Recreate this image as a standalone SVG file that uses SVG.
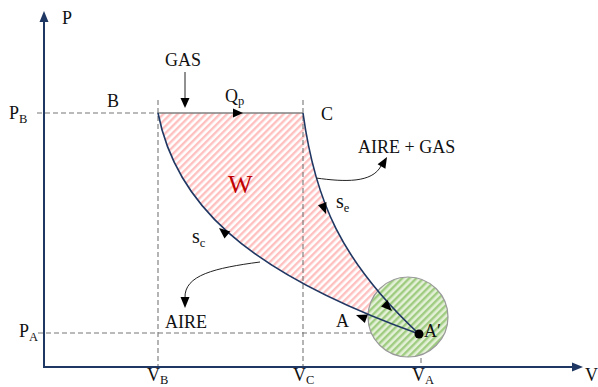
<svg xmlns="http://www.w3.org/2000/svg" width="598" height="387" viewBox="0 0 598 387">
<style>
text{font-family:"Liberation Serif","DejaVu Serif",serif;font-size:18px;fill:#111}
.sub{font-size:12.5px}
.s{font-size:20px}
.axis{stroke:#1f3763;stroke-width:2;fill:none}
.curve{stroke:#1f3763;stroke-width:1.6;fill:none}
.dash{stroke:#777;stroke-width:1.1;stroke-dasharray:5,3;fill:none}
.thin{stroke:#222;stroke-width:1;fill:none}
.ah{fill:#000}
</style>
<defs>
<pattern id="red" width="5" height="5" patternUnits="userSpaceOnUse" patternTransform="rotate(45)">
<rect width="5" height="5" fill="#fff"/><rect width="2.4" height="5" fill="#ffc0c0"/>
</pattern>
<pattern id="green" width="5" height="5" patternUnits="userSpaceOnUse" patternTransform="rotate(45)">
<rect width="5" height="5" fill="#e4f1d8"/><rect width="2.4" height="5" fill="#9fcc80"/>
</pattern>
</defs>
<g id="work-area">
<path d="M158,113 L303,113 C315,200 340,260 419,334 C240,270 175,200 158,113 Z" fill="url(#red)"/>
</g>
<g id="guides">
<path class="dash" d="M37,113 H158"/>
<path class="dash" d="M158,100 V367"/>
<path class="dash" d="M303,100 V367"/>
<path class="dash" d="M38,333 H419"/>
<path class="dash" d="M421,334 V367"/>
</g>
<g id="circle">
<circle cx="408" cy="317" r="40" fill="url(#green)" stroke="#9a9a9a" stroke-width="1.2"/>
</g>
<g id="axes">
<path class="axis" d="M44,368 V20"/>
<polygon points="44,11 39.5,22 48.5,22" fill="#1f3763"/>
<path class="axis" d="M43,367 H574"/>
<polygon points="583,367 572,362.5 572,371.5" fill="#1f3763"/>
</g>
<g id="connectors">
<path d="M158,113 H303" stroke="#808080" stroke-width="1.6" fill="none"/>
<polygon class="ah" points="243,113 233,108.5 233,117.5"/>
<path class="curve" d="M303,113 C315,200 340,260 419,334"/>
<path class="curve" d="M158,113 C175,200 240,270 419,334"/>
<polygon class="ah" points="0,0 -11,-4.5 -11,4.5" transform="translate(326,214) rotate(70)"/>
<polygon class="ah" points="0,0 -11,-4.5 -11,4.5" transform="translate(392,311) rotate(45)"/>
<polygon class="ah" points="0,0 -11,-4.5 -11,4.5" transform="translate(219,228) rotate(-140)"/>
<polygon class="ah" points="0,0 -11,-4.5 -11,4.5" transform="translate(356,315) rotate(-160)"/>
<path class="thin" d="M185,72 V100"/>
<polygon class="ah" points="185,108 180.5,98 189.5,98"/>
<path class="thin" d="M316,178 C345,182 372,183 381,166"/>
<polygon class="ah" points="0,0 -11,-4.5 -11,4.5" transform="translate(387,157) rotate(-60)"/>
<path class="thin" d="M260,262 C215,268 184,275 185,298"/>
<polygon class="ah" points="185,308 180.5,297 189.5,297"/>
<circle cx="419" cy="334" r="4.5" fill="#000"/>
</g>
<g id="labels">
<text x="62" y="24">P</text>
<text x="9" y="119">P<tspan class="sub" dy="4">B</tspan></text>
<text x="19" y="337">P<tspan class="sub" dy="4">A</tspan></text>
<text x="147" y="381">V<tspan class="sub" dy="3">B</tspan></text>
<text x="293" y="381">V<tspan class="sub" dy="3">C</tspan></text>
<text x="412" y="381">V<tspan class="sub" dy="3">A</tspan></text>
<text x="585" y="381">V</text>
<text x="107" y="107">B</text>
<text x="321" y="120">C</text>
<text x="165" y="66">GAS</text>
<text x="225" y="102">Q<tspan class="sub" dy="3">p</tspan></text>
<text x="358" y="153">AIRE + GAS</text>
<text x="336" y="208"><tspan class="s">s</tspan><tspan class="sub" dy="4">e</tspan></text>
<text x="192" y="243"><tspan class="s">s</tspan><tspan class="sub" dy="4">c</tspan></text>
<text x="165" y="328">AIRE</text>
<text x="336" y="327">A</text>
<text x="424" y="337">A′</text>
<text x="228" y="193" style="font-size:26px;fill:#c00000">W</text>
</g>
</svg>
